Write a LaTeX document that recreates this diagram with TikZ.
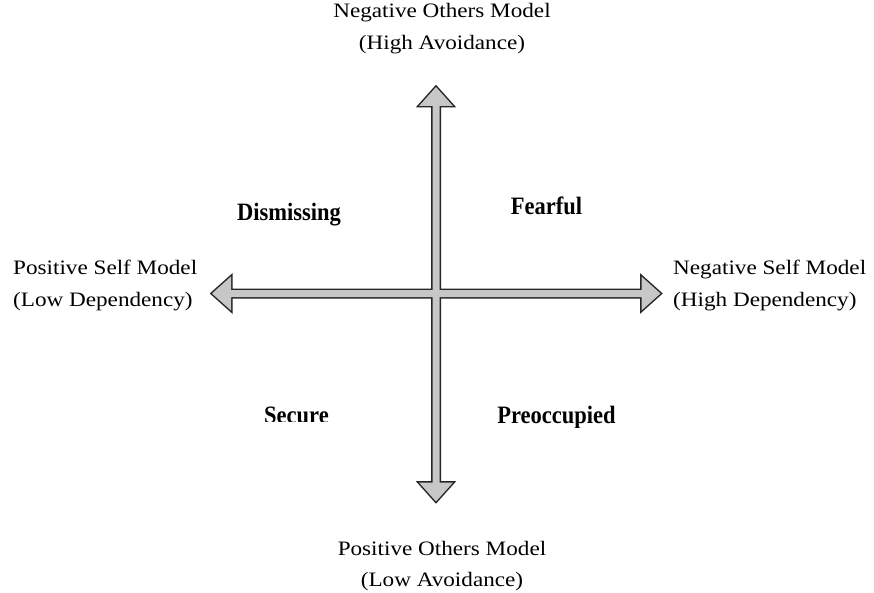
\documentclass[tikz,border=0pt]{standalone}
\usepackage{fontspec}
\setmainfont[FakeStretch=1.13]{Liberation Serif}
\newfontfamily\labfont[FakeStretch=0.9]{Liberation Serif}
\usetikzlibrary{calc}
\begin{document}
\begin{tikzpicture}[x=1pt,y=-1pt,
  axislabel/.style={font=\fontsize{20.5}{24}\selectfont, inner sep=0pt, text=black},
  quadlabel/.style={font=\labfont\bfseries\fontsize{25}{28}\selectfont, inner sep=0pt, text=black},
  arrowline/.style={draw=black!85, line width=3pt, line join=miter},
  arrowfill/.style={fill=black!22}]
\useasboundingbox[fill=white] (0,0) rectangle (874,593);
% arrow tips
\coordinate (tipL) at (212,293.5);
\coordinate (tipR) at (660.5,293.5);
\coordinate (tipT) at (436,87);
\coordinate (tipB) at (436,501.5);
% outlines
\path[arrowline] (tipL) -- ($(tipL)+(19,-17)$) -- ($(tipL)+(19,-3.5)$) -- ($(tipR)+(-19,-3.5)$) -- ($(tipR)+(-19,-17)$) -- (tipR) -- ($(tipR)+(-19,17)$) -- ($(tipR)+(-19,3.5)$) -- ($(tipL)+(19,3.5)$) -- ($(tipL)+(19,17)$) -- cycle;
\path[arrowline] (tipT) -- ($(tipT)+(17,19)$) -- ($(tipT)+(3.5,19)$) -- ($(tipB)+(3.5,-19)$) -- ($(tipB)+(17,-19)$) -- (tipB) -- ($(tipB)+(-17,-19)$) -- ($(tipB)+(-3.5,-19)$) -- ($(tipT)+(-3.5,19)$) -- ($(tipT)+(-17,19)$) -- cycle;
% fills
\path[arrowfill] (tipL) -- ($(tipL)+(19,-17)$) -- ($(tipL)+(19,-3.5)$) -- ($(tipR)+(-19,-3.5)$) -- ($(tipR)+(-19,-17)$) -- (tipR) -- ($(tipR)+(-19,17)$) -- ($(tipR)+(-19,3.5)$) -- ($(tipL)+(19,3.5)$) -- ($(tipL)+(19,17)$) -- cycle;
\path[arrowfill] (tipT) -- ($(tipT)+(17,19)$) -- ($(tipT)+(3.5,19)$) -- ($(tipB)+(3.5,-19)$) -- ($(tipB)+(17,-19)$) -- (tipB) -- ($(tipB)+(-17,-19)$) -- ($(tipB)+(-3.5,-19)$) -- ($(tipT)+(-3.5,19)$) -- ($(tipT)+(-17,19)$) -- cycle;
% axis labels
\node[axislabel, anchor=base] (topA) at (442,17.5) {Negative Others Model};
\node[axislabel, anchor=base] (topB) at (442,50) {(High Avoidance)};
\node[axislabel, anchor=base west] (leftA) at (13,275) {Positive Self Model};
\node[axislabel, anchor=base west] (leftB) at (13,306) {(Low Dependency)};
\node[axislabel, anchor=base west] (rightA) at (673,275) {Negative Self Model};
\node[axislabel, anchor=base west] (rightB) at (673,306) {(High Dependency)};
\node[axislabel, anchor=base] (botA) at (442,555) {Positive Others Model};
\node[axislabel, anchor=base] (botB) at (442,586) {(Low Avoidance)};
% quadrant labels
\node[quadlabel, anchor=base] (dism) at (289,221) {Dismissing};
\node[quadlabel, anchor=base] (fear) at (546.5,215) {Fearful};
\begin{scope}
\clip (240,390) rectangle (350,421.5);
\node[quadlabel, anchor=base] (secu) at (296.5,423) {Secure};
\end{scope}
\begin{scope}
\clip (480,390) rectangle (640,427.5);
\node[quadlabel, anchor=base] (preo) at (556.5,423) {Preoccupied};
\end{scope}
\end{tikzpicture}
\end{document}
